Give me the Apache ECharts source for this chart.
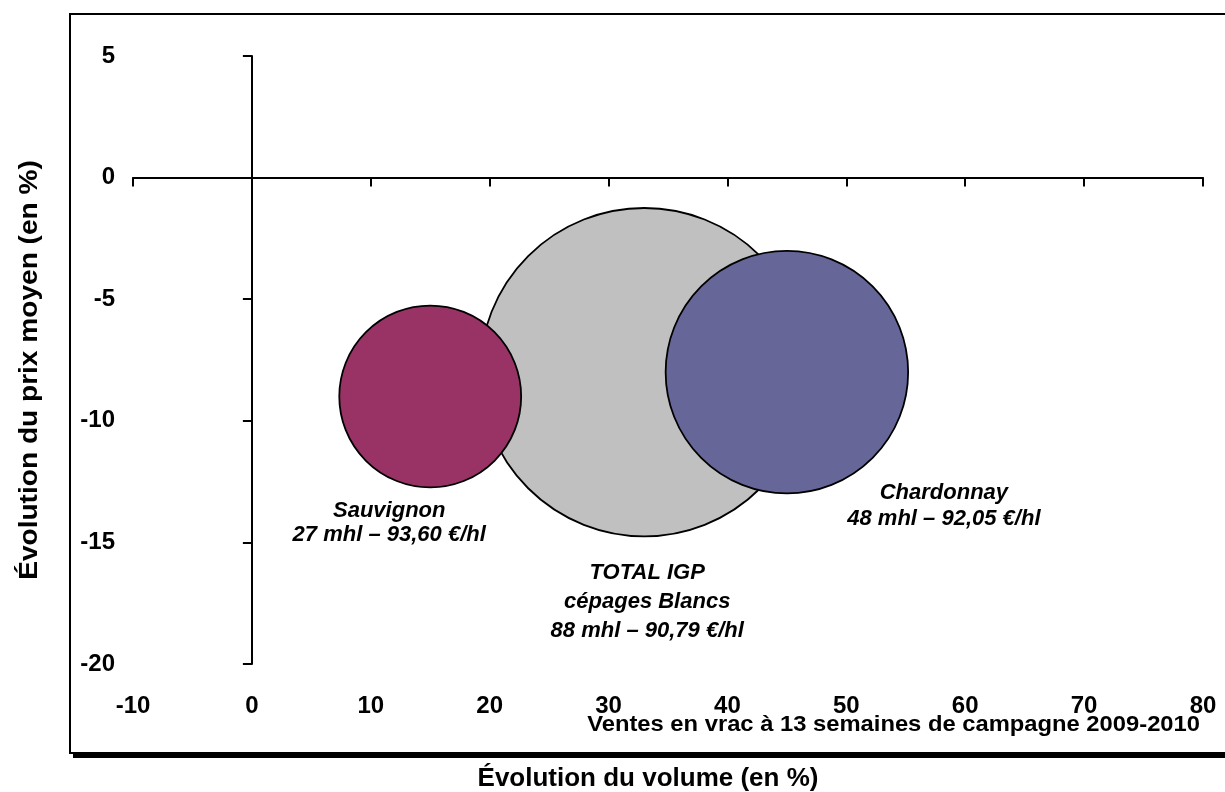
<!DOCTYPE html>
<html>
<head>
<meta charset="utf-8">
<script src="https://cdn.jsdelivr.net/npm/echarts@6/dist/echarts.min.js"></script>
<style>
  html, body { margin: 0; padding: 0; background: #ffffff; }
  #chart { width: 1225px; height: 792px; }
</style>
</head>
<body>
<div id="chart"></div>
<script>
// Bulk sales after 13 weeks of the 2009-2010 campaign (white IGP varieties)
const varieties    = ['TOTAL IGP\ncépages Blancs', 'Sauvignon', 'Chardonnay'];
const volumeChange = [33, 15, 45];        // % change in volume (x)
const priceChange  = [-8, -9, -8];        // % change in average price (y)
const volumesMhl   = [88, 27, 48];        // volume in thousand hl (bubble size)
const pricesEurHl  = [90.79, 93.60, 92.05];

// label styling per bubble
const colors       = ['#C0C0C0', '#993366', '#666699'];
const labelOffsets = [[3, 230], [-41, 126], [157, 134]];
const labelLines   = [29, 24, 26];

const xTicks = { min: -10, max: 80, interval: 10 };
const yTicks = { min: -20, max: 5, interval: 5 };

const FONT = '"Liberation Sans", Arial, sans-serif';

function fmtPrice(p) { return p.toFixed(2).replace('.', ','); }

const series = varieties.map((name, i) => ({
  type: 'scatter',
  name: name,
  xAxisIndex: 0,
  yAxisIndex: 0,
  z: 2 + i,
  symbolSize: (d) => 35 * Math.sqrt(d[2]),
  itemStyle: { color: colors[i], borderColor: '#000000', borderWidth: 1.8, opacity: 1 },
  label: {
    show: true,
    position: 'inside',
    offset: labelOffsets[i],
    formatter: () => name + '\n' + volumesMhl[i] + ' mhl – ' + fmtPrice(pricesEurHl[i]) + ' €/hl',
    fontFamily: FONT,
    fontSize: 22,
    fontWeight: 'bold',
    fontStyle: 'italic',
    color: '#000000',
    lineHeight: labelLines[i],
    align: 'center'
  },
  emphasis: { disabled: true },
  data: [[volumeChange[i], priceChange[i], volumesMhl[i]]]
}));

const chart = echarts.init(document.getElementById('chart'), null, { renderer: 'canvas' });
chart.setOption({
  backgroundColor: '#ffffff',
  animation: false,
  grid: { left: 133, right: 22, top: 56, bottom: 128, containLabel: false },
  xAxis: [
    {
      type: 'value', position: 'bottom', ...xTicks,
      axisLine: { show: true, onZero: true, onZeroAxisIndex: 0, lineStyle: { color: '#000', width: 2 } },
      axisTick: { show: true, length: 9, lineStyle: { color: '#000', width: 2 } },
      axisLabel: { show: false },
      splitLine: { show: false }
    },
    {
      type: 'value', position: 'bottom', ...xTicks,
      axisLine: { show: false, onZero: false },
      axisTick: { show: false },
      axisLabel: { show: true, margin: 30, fontFamily: FONT, fontSize: 24, fontWeight: 'bold', color: '#000' },
      splitLine: { show: false }
    }
  ],
  yAxis: [
    {
      type: 'value', position: 'left', ...yTicks,
      axisLine: { show: true, onZero: true, onZeroAxisIndex: 0, lineStyle: { color: '#000', width: 2 } },
      axisTick: { show: true, length: 9, lineStyle: { color: '#000', width: 2 } },
      axisLabel: { show: false },
      splitLine: { show: false }
    },
    {
      type: 'value', position: 'left', ...yTicks,
      axisLine: { show: false, onZero: false },
      axisTick: { show: false },
      axisLabel: { show: true, margin: 18, fontFamily: FONT, fontSize: 24, fontWeight: 'bold', color: '#000' },
      splitLine: { show: false }
    }
  ],
  graphic: [
    // outer frame with a drop shadow along the bottom edge
    { type: 'rect', z: 0, silent: true, shape: { x: 73, y: 752, width: 1160, height: 6 }, style: { fill: '#000' } },
    { type: 'rect', z: 1, silent: true, shape: { x: 70, y: 14, width: 1170, height: 739 }, style: { fill: 'none', stroke: '#000', lineWidth: 2 } },
    {
      type: 'text', silent: true, x: 1200, y: 725, scaleX: 1.08,
      style: { text: 'Ventes en vrac à 13 semaines de campagne 2009-2010', fontFamily: FONT, fontSize: 22, fontWeight: 'bold', fill: '#000', align: 'right', verticalAlign: 'middle' }
    },
    {
      type: 'text', silent: true, x: 648, y: 779,
      style: { text: 'Évolution du volume (en %)', fontFamily: FONT, fontSize: 26, fontWeight: 'bold', fill: '#000', align: 'center', verticalAlign: 'middle' }
    },
    {
      type: 'text', silent: true, x: 30, y: 370, rotation: Math.PI / 2, scaleX: 1.08,
      style: { text: 'Évolution du prix moyen (en %)', fontFamily: FONT, fontSize: 26, fontWeight: 'bold', fill: '#000', align: 'center', verticalAlign: 'middle' }
    }
  ],
  series: series
});
</script>
</body>
</html>
